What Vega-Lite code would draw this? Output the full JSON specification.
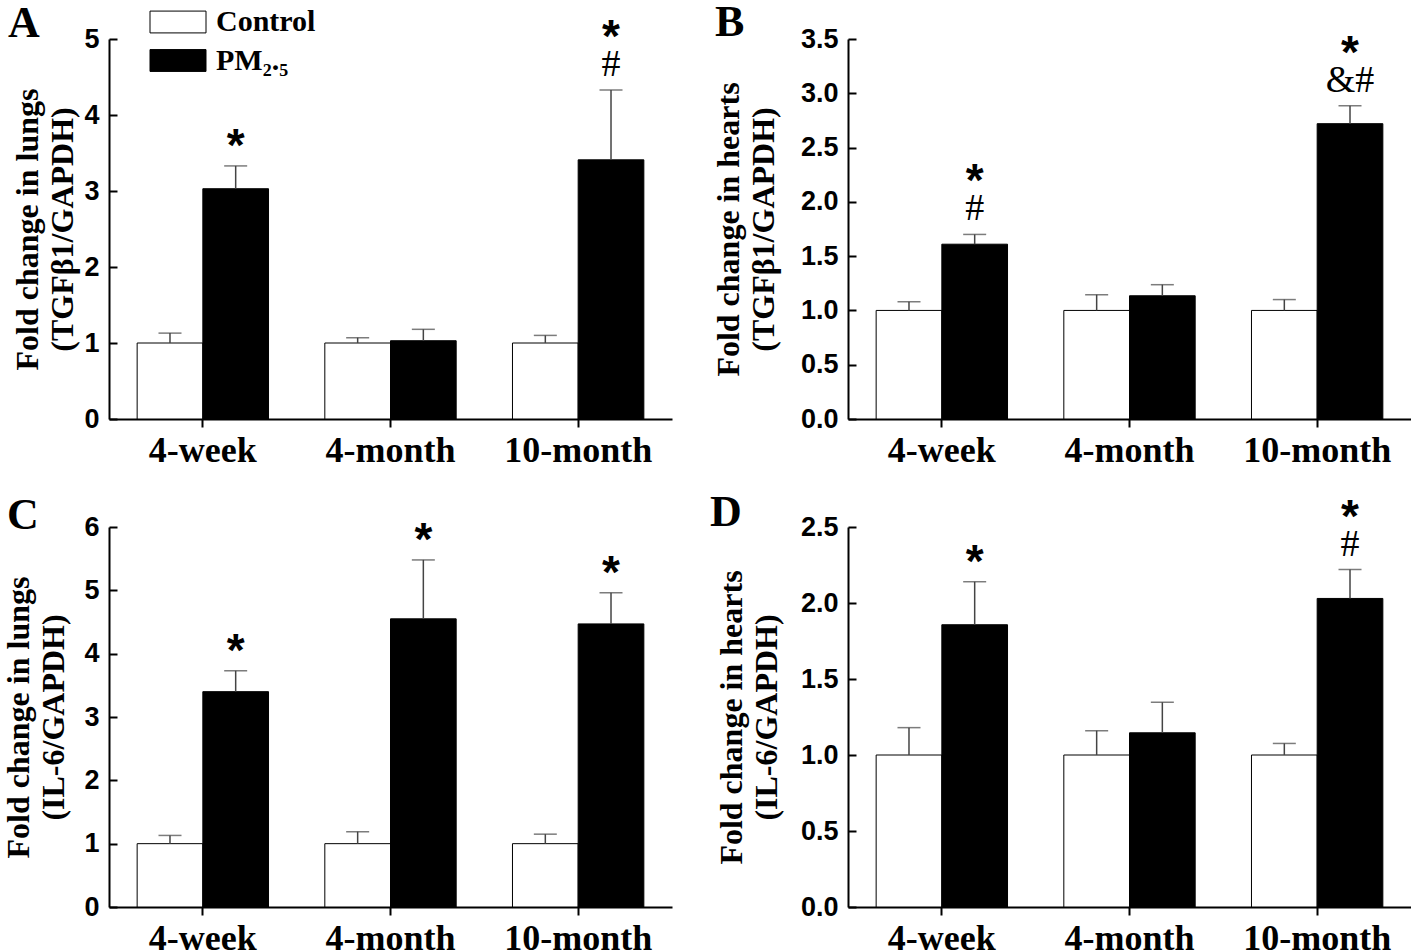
{
  "$schema": "https://vega.github.io/schema/vega-lite/v6.json",
  "background": "white",
  "padding": {"left": 2, "top": 1, "right": 0, "bottom": 0},
  "data": {"values": [
    {"panel": "A", "time": "4-week", "group": "Control", "value": 1.0, "upper": 1.13, "star1": "", "hash1": "", "star2": ""},
    {"panel": "A", "time": "4-week", "group": "PM2.5", "value": 3.03, "upper": 3.33, "star1": "*", "hash1": "", "star2": ""},
    {"panel": "A", "time": "4-month", "group": "Control", "value": 1.0, "upper": 1.07, "star1": "", "hash1": "", "star2": ""},
    {"panel": "A", "time": "4-month", "group": "PM2.5", "value": 1.03, "upper": 1.18, "star1": "", "hash1": "", "star2": ""},
    {"panel": "A", "time": "10-month", "group": "Control", "value": 1.0, "upper": 1.10, "star1": "", "hash1": "", "star2": ""},
    {"panel": "A", "time": "10-month", "group": "PM2.5", "value": 3.41, "upper": 4.33, "star1": "", "hash1": "#", "star2": "*"},
    {"panel": "B", "time": "4-week", "group": "Control", "value": 1.0, "upper": 1.08, "star1": "", "hash1": "", "star2": ""},
    {"panel": "B", "time": "4-week", "group": "PM2.5", "value": 1.61, "upper": 1.70, "star1": "", "hash1": "#", "star2": "*"},
    {"panel": "B", "time": "4-month", "group": "Control", "value": 1.0, "upper": 1.145, "star1": "", "hash1": "", "star2": ""},
    {"panel": "B", "time": "4-month", "group": "PM2.5", "value": 1.135, "upper": 1.237, "star1": "", "hash1": "", "star2": ""},
    {"panel": "B", "time": "10-month", "group": "Control", "value": 1.0, "upper": 1.10, "star1": "", "hash1": "", "star2": ""},
    {"panel": "B", "time": "10-month", "group": "PM2.5", "value": 2.72, "upper": 2.885, "star1": "", "hash1": "&#", "star2": "*"},
    {"panel": "C", "time": "4-week", "group": "Control", "value": 1.0, "upper": 1.13, "star1": "", "hash1": "", "star2": ""},
    {"panel": "C", "time": "4-week", "group": "PM2.5", "value": 3.40, "upper": 3.73, "star1": "*", "hash1": "", "star2": ""},
    {"panel": "C", "time": "4-month", "group": "Control", "value": 1.0, "upper": 1.19, "star1": "", "hash1": "", "star2": ""},
    {"panel": "C", "time": "4-month", "group": "PM2.5", "value": 4.55, "upper": 5.48, "star1": "*", "hash1": "", "star2": ""},
    {"panel": "C", "time": "10-month", "group": "Control", "value": 1.0, "upper": 1.15, "star1": "", "hash1": "", "star2": ""},
    {"panel": "C", "time": "10-month", "group": "PM2.5", "value": 4.47, "upper": 4.96, "star1": "*", "hash1": "", "star2": ""},
    {"panel": "D", "time": "4-week", "group": "Control", "value": 1.0, "upper": 1.18, "star1": "", "hash1": "", "star2": ""},
    {"panel": "D", "time": "4-week", "group": "PM2.5", "value": 1.857, "upper": 2.14, "star1": "*", "hash1": "", "star2": ""},
    {"panel": "D", "time": "4-month", "group": "Control", "value": 1.0, "upper": 1.16, "star1": "", "hash1": "", "star2": ""},
    {"panel": "D", "time": "4-month", "group": "PM2.5", "value": 1.146, "upper": 1.347, "star1": "", "hash1": "", "star2": ""},
    {"panel": "D", "time": "10-month", "group": "Control", "value": 1.0, "upper": 1.076, "star1": "", "hash1": "", "star2": ""},
    {"panel": "D", "time": "10-month", "group": "PM2.5", "value": 2.03, "upper": 2.22, "star1": "", "hash1": "#", "star2": "*"}
  ]},
  "columns": 2,
  "spacing": {"row": 108, "column": 176},
  "bounds": "flush",
  "resolve": {"scale": {"x": "independent", "y": "independent", "fill": "independent"}},
  "concat": [
    {
      "width": 563, "height": 380,
      "transform": [{"filter": "datum.panel === 'A'"}],
      "encoding": {
        "x": {"field": "time", "type": "nominal", "sort": ["4-week", "4-month", "10-month"], "scale": {"paddingInner": 0.3, "paddingOuter": 0.15}, "axis": {"title": null}},
        "xOffset": {"field": "group", "type": "nominal", "sort": ["Control", "PM2.5"]}
      },
      "layer": [
        {"mark": {"type": "bar", "stroke": "black", "strokeWidth": 1},
         "encoding": {
           "y": {"field": "value", "type": "quantitative", "scale": {"domain": [0, 5], "nice": false}, "axis": {"values": [0, 1, 2, 3, 4, 5], "format": "d", "title": ["Fold change in lungs", "(TGFβ1/GAPDH)"], "titlePadding": 4}},
           "fill": {"field": "group", "type": "nominal", "scale": {"domain": ["Control", "PM2.5"], "range": ["white", "black"]},
             "legend": {"title": "A", "titleOrient": "left", "titlePadding": 123, "titleFont": "Liberation Serif", "titleFontWeight": "bold", "titleFontSize": 44, "titleColor": "black", "titleBaseline": "line-bottom", "titleLineHeight": 34,
               "orient": "none", "legendX": -101, "legendY": -32, "padding": 0, "symbolType": "M-2,-0.78H2V0.78H-2Z", "symbolSize": 784, "symbolStrokeColor": "black", "symbolStrokeWidth": 1, "symbolOpacity": 1, "labelFont": "Liberation Serif", "labelFontWeight": "bold", "labelFontSize": 30, "labelColor": "black", "labelOffset": 23, "rowPadding": 8.5, "labelExpr": "datum.label == 'PM2.5' ? 'PM₂.₅' : datum.label"}}
         }},
        {"mark": {"type": "rule", "color": "#444", "strokeWidth": 1.5}, "encoding": {"y": {"field": "value", "type": "quantitative"}, "y2": {"field": "upper"}}},
        {"mark": {"type": "tick", "color": "#444", "thickness": 1.5, "size": 23}, "encoding": {"y": {"field": "upper", "type": "quantitative"}}},
        {"mark": {"type": "text", "font": "Liberation Sans", "fontWeight": "bold", "fontSize": 46, "baseline": "alphabetic", "dy": -5, "color": "black"}, "encoding": {"y": {"field": "upper", "type": "quantitative"}, "text": {"field": "star1"}}},
        {"mark": {"type": "text", "font": "Liberation Serif", "fontSize": 38, "baseline": "alphabetic", "dy": -14, "color": "black"}, "encoding": {"y": {"field": "upper", "type": "quantitative"}, "text": {"field": "hash1"}}},
        {"mark": {"type": "text", "font": "Liberation Sans", "fontWeight": "bold", "fontSize": 46, "baseline": "alphabetic", "dy": -38, "color": "black"}, "encoding": {"y": {"field": "upper", "type": "quantitative"}, "text": {"field": "star2"}}}
      ]
    },
    {
      "width": 563, "height": 380,
      "transform": [{"filter": "datum.panel === 'B'"}],
      "encoding": {
        "x": {"field": "time", "type": "nominal", "sort": ["4-week", "4-month", "10-month"], "scale": {"paddingInner": 0.3, "paddingOuter": 0.15}, "axis": {"title": null}},
        "xOffset": {"field": "group", "type": "nominal", "sort": ["Control", "PM2.5"]}
      },
      "layer": [
        {"mark": {"type": "bar", "stroke": "black", "strokeWidth": 1},
         "encoding": {
           "y": {"field": "value", "type": "quantitative", "scale": {"domain": [0, 3.5], "nice": false}, "axis": {"values": [0, 0.5, 1, 1.5, 2, 2.5, 3, 3.5], "format": ".1f", "title": ["Fold change in hearts", "(TGFβ1/GAPDH)"], "titlePadding": 20}},
           "fill": {"field": "group", "type": "nominal", "scale": {"domain": ["Control", "PM2.5"], "range": ["white", "black"]},
             "legend": {"title": "B", "titleFont": "Liberation Serif", "titleFontWeight": "bold", "titleFontSize": 44, "titleColor": "black", "titleBaseline": "top", "orient": "none", "legendX": -133, "legendY": -38, "padding": 0, "symbolOpacity": 0, "symbolStrokeWidth": 0, "labelOpacity": 0}}
         }},
        {"mark": {"type": "rule", "color": "#444", "strokeWidth": 1.5}, "encoding": {"y": {"field": "value", "type": "quantitative"}, "y2": {"field": "upper"}}},
        {"mark": {"type": "tick", "color": "#444", "thickness": 1.5, "size": 23}, "encoding": {"y": {"field": "upper", "type": "quantitative"}}},
        {"mark": {"type": "text", "font": "Liberation Sans", "fontWeight": "bold", "fontSize": 46, "baseline": "alphabetic", "dy": -5, "color": "black"}, "encoding": {"y": {"field": "upper", "type": "quantitative"}, "text": {"field": "star1"}}},
        {"mark": {"type": "text", "font": "Liberation Serif", "fontSize": 38, "baseline": "alphabetic", "dy": -14, "color": "black"}, "encoding": {"y": {"field": "upper", "type": "quantitative"}, "text": {"field": "hash1"}}},
        {"mark": {"type": "text", "font": "Liberation Sans", "fontWeight": "bold", "fontSize": 46, "baseline": "alphabetic", "dy": -38, "color": "black"}, "encoding": {"y": {"field": "upper", "type": "quantitative"}, "text": {"field": "star2"}}}
      ]
    },
    {
      "width": 563, "height": 380,
      "transform": [{"filter": "datum.panel === 'C'"}],
      "encoding": {
        "x": {"field": "time", "type": "nominal", "sort": ["4-week", "4-month", "10-month"], "scale": {"paddingInner": 0.3, "paddingOuter": 0.15}, "axis": {"title": null}},
        "xOffset": {"field": "group", "type": "nominal", "sort": ["Control", "PM2.5"]}
      },
      "layer": [
        {"mark": {"type": "bar", "stroke": "black", "strokeWidth": 1},
         "encoding": {
           "y": {"field": "value", "type": "quantitative", "scale": {"domain": [0, 6], "nice": false}, "axis": {"values": [0, 1, 2, 3, 4, 5, 6], "format": "d", "title": ["Fold change in lungs", "(IL-6/GAPDH)"], "titlePadding": 13}},
           "fill": {"field": "group", "type": "nominal", "scale": {"domain": ["Control", "PM2.5"], "range": ["white", "black"]},
             "legend": {"title": "C", "titleFont": "Liberation Serif", "titleFontWeight": "bold", "titleFontSize": 44, "titleColor": "black", "titleBaseline": "top", "orient": "none", "legendX": -102, "legendY": -33, "padding": 0, "symbolOpacity": 0, "symbolStrokeWidth": 0, "labelOpacity": 0}}
         }},
        {"mark": {"type": "rule", "color": "#444", "strokeWidth": 1.5}, "encoding": {"y": {"field": "value", "type": "quantitative"}, "y2": {"field": "upper"}}},
        {"mark": {"type": "tick", "color": "#444", "thickness": 1.5, "size": 23}, "encoding": {"y": {"field": "upper", "type": "quantitative"}}},
        {"mark": {"type": "text", "font": "Liberation Sans", "fontWeight": "bold", "fontSize": 46, "baseline": "alphabetic", "dy": -5, "color": "black"}, "encoding": {"y": {"field": "upper", "type": "quantitative"}, "text": {"field": "star1"}}},
        {"mark": {"type": "text", "font": "Liberation Serif", "fontSize": 38, "baseline": "alphabetic", "dy": -14, "color": "black"}, "encoding": {"y": {"field": "upper", "type": "quantitative"}, "text": {"field": "hash1"}}},
        {"mark": {"type": "text", "font": "Liberation Sans", "fontWeight": "bold", "fontSize": 46, "baseline": "alphabetic", "dy": -38, "color": "black"}, "encoding": {"y": {"field": "upper", "type": "quantitative"}, "text": {"field": "star2"}}}
      ]
    },
    {
      "width": 563, "height": 380,
      "transform": [{"filter": "datum.panel === 'D'"}],
      "encoding": {
        "x": {"field": "time", "type": "nominal", "sort": ["4-week", "4-month", "10-month"], "scale": {"paddingInner": 0.3, "paddingOuter": 0.15}, "axis": {"title": null}},
        "xOffset": {"field": "group", "type": "nominal", "sort": ["Control", "PM2.5"]}
      },
      "layer": [
        {"mark": {"type": "bar", "stroke": "black", "strokeWidth": 1},
         "encoding": {
           "y": {"field": "value", "type": "quantitative", "scale": {"domain": [0, 2.5], "nice": false}, "axis": {"values": [0, 0.5, 1, 1.5, 2, 2.5], "format": ".1f", "title": ["Fold change in hearts", "(IL-6/GAPDH)"], "titlePadding": 17}},
           "fill": {"field": "group", "type": "nominal", "scale": {"domain": ["Control", "PM2.5"], "range": ["white", "black"]},
             "legend": {"title": "D", "titleFont": "Liberation Serif", "titleFontWeight": "bold", "titleFontSize": 44, "titleColor": "black", "titleBaseline": "top", "orient": "none", "legendX": -138, "legendY": -36, "padding": 0, "symbolOpacity": 0, "symbolStrokeWidth": 0, "labelOpacity": 0}}
         }},
        {"mark": {"type": "rule", "color": "#444", "strokeWidth": 1.5}, "encoding": {"y": {"field": "value", "type": "quantitative"}, "y2": {"field": "upper"}}},
        {"mark": {"type": "tick", "color": "#444", "thickness": 1.5, "size": 23}, "encoding": {"y": {"field": "upper", "type": "quantitative"}}},
        {"mark": {"type": "text", "font": "Liberation Sans", "fontWeight": "bold", "fontSize": 46, "baseline": "alphabetic", "dy": -5, "color": "black"}, "encoding": {"y": {"field": "upper", "type": "quantitative"}, "text": {"field": "star1"}}},
        {"mark": {"type": "text", "font": "Liberation Serif", "fontSize": 38, "baseline": "alphabetic", "dy": -14, "color": "black"}, "encoding": {"y": {"field": "upper", "type": "quantitative"}, "text": {"field": "hash1"}}},
        {"mark": {"type": "text", "font": "Liberation Sans", "fontWeight": "bold", "fontSize": 46, "baseline": "alphabetic", "dy": -38, "color": "black"}, "encoding": {"y": {"field": "upper", "type": "quantitative"}, "text": {"field": "star2"}}}
      ]
    }
  ],
  "config": {
    "view": {"stroke": null},
    "axis": {"grid": false, "domainColor": "black", "domainWidth": 2, "tickColor": "black", "tickWidth": 2, "labelColor": "black", "titleColor": "black"},
    "axisY": {"tickSize": -8, "labelPadding": 18, "labelFont": "Liberation Sans", "labelFontWeight": "bold", "labelFontSize": 27, "titleFont": "Liberation Serif", "titleFontWeight": "bold", "titleFontSize": 32, "titleLineHeight": 35},
    "axisX": {"tickSize": 8, "labelPadding": 6, "labelAngle": 0, "labelFont": "Liberation Serif", "labelFontWeight": "bold", "labelFontSize": 36, "labelBaseline": "top"}
  }
}
